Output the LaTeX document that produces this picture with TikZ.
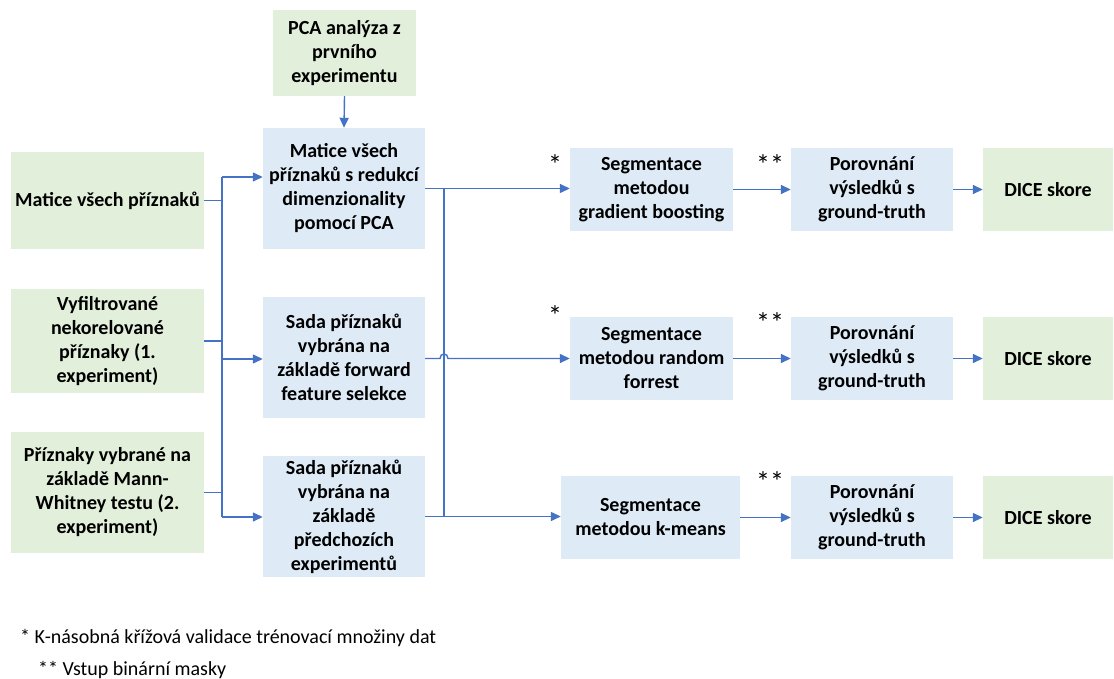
\documentclass[tikz,border=0pt]{standalone}
\usepackage{fontspec}
\setmainfont{Carlito}
\usetikzlibrary{arrows.meta}
\definecolor{gfill}{HTML}{E2EFDA}
\definecolor{bfill}{HTML}{DEEBF7}
\definecolor{lcol}{HTML}{4472C4}
\begin{document}
\begin{tikzpicture}[x=1pt,y=-1pt,
  boxbase/.style={inner sep=0pt, align=center, font=\bfseries\fontsize{20}{24}\selectfont},
  gbox/.style={boxbase, fill=gfill},
  bbox/.style={boxbase, fill=bfill},
  conn/.style={draw=lcol, line width=1.4pt},
  arr/.style={conn, -{Triangle[length=10pt,width=9pt]}},
  star/.style={font=\fontsize{28}{28}\selectfont, inner sep=0pt},
  note/.style={font=\fontsize{20}{24}\selectfont, inner sep=0pt, anchor=west}]
\useasboundingbox (0,0) rectangle (1114,679);
% boxes
\node[gbox, minimum width=143pt, minimum height=86pt] (pca) at (344.5,53) {PCA analýza z\\prvního\\experimentu};
\node[gbox, minimum width=193pt, minimum height=97pt] (l1) at (107.5,200.5) {Matice všech příznaků};
\node[gbox, minimum width=193pt, minimum height=104pt] (l2) at (107.5,341) {Vyfiltrované\\nekorelované\\příznaky (1.\\experiment)};
\node[gbox, minimum width=193pt, minimum height=121pt] (l3) at (107.5,492.5) {Příznaky vybrané na\\základě Mann-\\Whitney testu (2.\\experiment)};
\node[bbox, minimum width=162pt, minimum height=121pt] (a) at (344,188.5) {Matice všech\\příznaků s redukcí\\dimenzionality\\pomocí PCA};
\node[bbox, minimum width=162pt, minimum height=121pt] (b) at (344,357.5) {Sada příznaků\\vybrána na\\základě forward\\feature selekce};
\node[bbox, minimum width=162pt, minimum height=121pt] (c) at (344,516.5) {Sada příznaků\\vybrána na\\základě\\předchozích\\experimentů};
\node[bbox, minimum width=163pt, minimum height=83pt] (s1) at (651.5,189.5) {Segmentace\\metodou\\gradient boosting};
\node[bbox, minimum width=163pt, minimum height=83pt] (s2) at (651.5,358.5) {Segmentace\\metodou random\\forrest};
\node[bbox, minimum width=179pt, minimum height=83pt] (s3) at (650.5,517.5) {Segmentace\\metodou k-means};
\node[bbox, minimum width=162pt, minimum height=83pt] (p1) at (872,189.5) {Porovnání\\výsledků s\\ground-truth};
\node[bbox, minimum width=162pt, minimum height=83pt] (p2) at (872,358.5) {Porovnání\\výsledků s\\ground-truth};
\node[bbox, minimum width=162pt, minimum height=83pt] (p3) at (872,517.5) {Porovnání\\výsledků s\\ground-truth};
\node[gbox, minimum width=130pt, minimum height=83pt] (d1) at (1048,189.5) {DICE skore};
\node[gbox, minimum width=130pt, minimum height=83pt] (d2) at (1048,358.5) {DICE skore};
\node[gbox, minimum width=130pt, minimum height=83pt] (d3) at (1048,517.5) {DICE skore};
% stars
\node[star] (st1) at (555,165) {*};
\node[star] (st2) at (555,316) {*};
\node[star] (st3) at (770,165) {**};
\node[star] (st4) at (770,323) {**};
\node[star] (st5) at (770,482) {**};
% footnotes
\node[note] (n1) at (20,638) {* K-násobná křížová validace trénovací množiny dat};
\node[note] (n2) at (38,670) {** Vstup binární masky};
% left bus
\coordinate (busx) at (222,0);
\coordinate (ya) at (0,177);
\coordinate (yb) at (0,359);
\coordinate (yc) at (0,517);
\draw[conn] (l1.east) -- (l1.east -| busx);
\draw[conn] (l2.east) -- (l2.east -| busx);
\draw[conn] (l3.east) -- (l3.east -| busx);
\draw[conn] (busx |- ya) -- (busx |- yc);
\draw[arr] (busx |- ya) -- (a.west |- ya);
\draw[arr] (busx |- yb) -- (b.west |- yb);
\draw[arr] (busx |- yc) -- (c.west |- yc);
% PCA
\draw[arr] (pca.south) -- (a.north);
% right bus
\coordinate (rbx) at (444,0);
\draw[arr] (a.east) -- (a.east -| s1.west);
\draw[conn] (a.east -| rbx) -- (c.east -| rbx);
\draw[arr] (c.east) -- (c.east -| s3.west);
\coordinate (h1) at (440,358.5);
\coordinate (h2) at (448,358.5);
\draw[arr] (b.east |- h1) -- (h1) .. controls (440,352.5) and (448,352.5) .. (h2) -- (s2.west);
% to comparison and DICE
\draw[arr] (s1.east) -- (p1.west);
\draw[arr] (s2.east) -- (p2.west);
\draw[arr] (s3.east) -- (p3.west);
\draw[arr] (p1.east) -- (d1.west);
\draw[arr] (p2.east) -- (d2.west);
\draw[arr] (p3.east) -- (d3.west);
\end{tikzpicture}
\end{document}
